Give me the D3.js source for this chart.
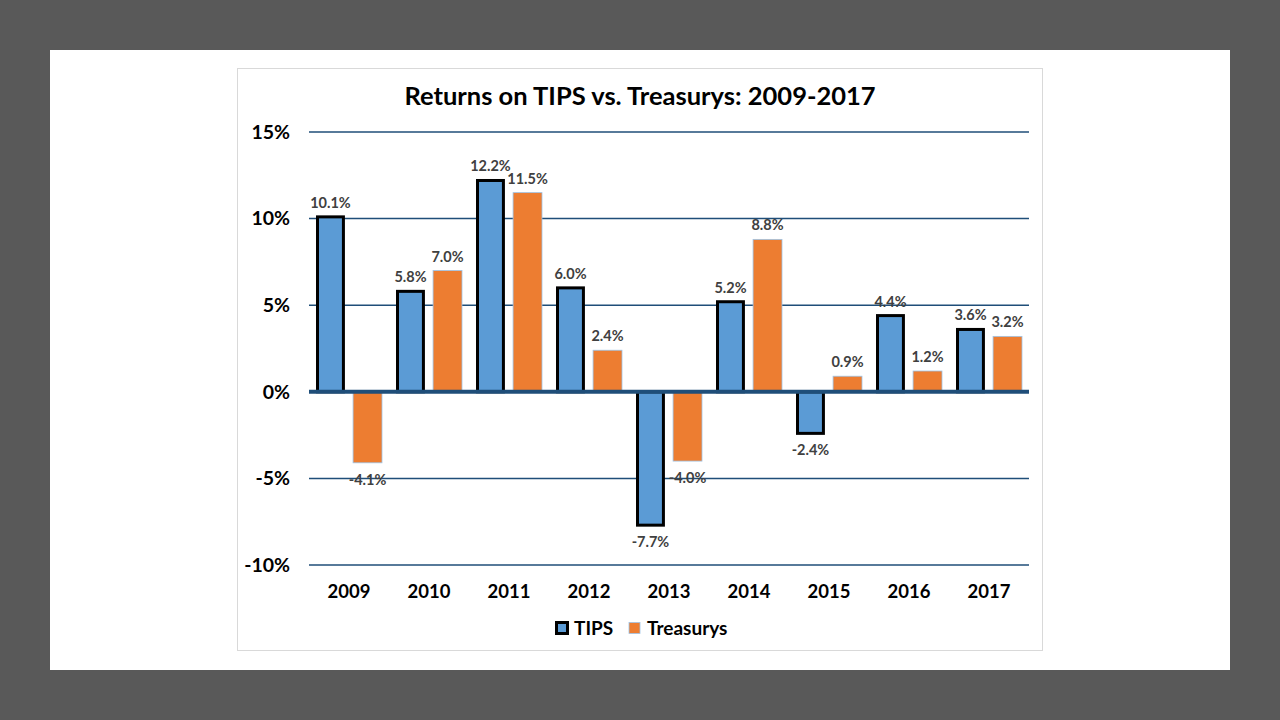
<!DOCTYPE html>
<html>
<head>
<meta charset="utf-8">
<script src="https://cdn.jsdelivr.net/npm/d3@7"></script>
<style>
  html, body { margin: 0; padding: 0; background: #595959; }
  svg { display: block; font-family: Lato, "Open Sans", sans-serif; }
</style>
</head>
<body>
<svg id="chart" width="1280" height="720"></svg>
<script>
// ==========================================
// DATA
// ==========================================
const years = ['2009', '2010', '2011', '2012', '2013', '2014', '2015', '2016', '2017'];
const tipsReturns = [10.1, 5.8, 12.2, 6.0, -7.7, 5.2, -2.4, 4.4, 3.6];
const treasuryReturns = [-4.1, 7.0, 11.5, 2.4, -4.0, 8.8, 0.9, 1.2, 3.2];
const seriesNames = ['TIPS', 'Treasurys'];
const yTicks = [-10, -5, 0, 5, 10, 15];

const svg = d3.select('#chart');

// slide + chart frame
svg.append('rect').attr('x', 50).attr('y', 50).attr('width', 1180).attr('height', 620).attr('fill', '#fff');
svg.append('rect').attr('x', 237.5).attr('y', 68.5).attr('width', 805).attr('height', 582)
  .attr('fill', '#fff').attr('stroke', '#d9d9d9').attr('stroke-width', 1);

svg.append('text')
  .attr('x', 640).attr('y', 105)
  .attr('text-anchor', 'middle')
  .attr('font-size', 25.5).attr('font-weight', 700).attr('fill', '#000')
  .text('Returns on TIPS vs. Treasurys: 2009-2017');

// ==========================================
// SCALES
// ==========================================
const y = d3.scaleLinear().domain([-10, 15]).range([565, 132]);
const x0 = d3.scaleBand().domain(years).range([309, 1029]).padding(0);
const x1 = d3.scaleBand().domain(seriesNames).range([7, 73]).paddingInner(0.22);

// gridlines
svg.append('g').selectAll('line')
  .data(yTicks.filter(t => t !== 0))
  .join('line')
  .attr('x1', 309).attr('x2', 1029)
  .attr('y1', d => y(d)).attr('y2', d => y(d))
  .attr('stroke', '#1f4e79').attr('stroke-width', 1.5);

// y axis labels
const yAxis = d3.axisLeft(y).tickValues(yTicks).tickSize(0).tickPadding(0)
  .tickFormat(d => d + '%');
svg.append('g')
  .attr('transform', 'translate(290,0)')
  .call(yAxis)
  .call(g => g.select('.domain').remove())
  .selectAll('text')
  .attr('font-family', 'Lato, "Open Sans", sans-serif')
  .attr('font-size', 19.5).attr('font-weight', 700).attr('fill', '#000');

// x axis labels
const xAxis = d3.axisBottom(x0).tickSize(0).tickPadding(0);
svg.append('g')
  .attr('transform', 'translate(0,585)')
  .call(xAxis)
  .call(g => g.select('.domain').remove())
  .selectAll('text')
  .attr('font-family', 'Lato, "Open Sans", sans-serif')
  .attr('font-size', 18.5).attr('font-weight', 700).attr('fill', '#000');

// ==========================================
// BARS
// ==========================================
const rows = years.map((yr, i) => ({ year: yr, values: [
  { key: 'TIPS', v: tipsReturns[i] },
  { key: 'Treasurys', v: treasuryReturns[i] }
]}));

const groups = svg.append('g').selectAll('g')
  .data(rows)
  .join('g')
  .attr('transform', d => `translate(${x0(d.year)},0)`);

groups.selectAll('rect')
  .data(d => d.values)
  .join('rect')
  .attr('x', d => x1(d.key) + (d.key === 'TIPS' ? 1.5 : 0))
  .attr('width', d => x1.bandwidth() - (d.key === 'TIPS' ? 3 : 0))
  .attr('y', d => y(Math.max(0, d.v)))
  .attr('height', d => Math.abs(y(d.v) - y(0)))
  .attr('fill', d => d.key === 'TIPS' ? '#5b9bd5' : '#ed7d31')
  .attr('stroke', d => d.key === 'TIPS' ? '#000' : '#9dc3e6')
  .attr('stroke-width', d => d.key === 'TIPS' ? 3 : 0.8);

// zero line on top of bars
svg.append('line')
  .attr('x1', 309).attr('x2', 1029)
  .attr('y1', y(0)).attr('y2', y(0))
  .attr('stroke', '#1f4e79').attr('stroke-width', 4);

// data labels
groups.selectAll('text.lbl')
  .data(d => d.values)
  .join('text')
  .attr('class', 'lbl')
  .attr('x', d => x1(d.key) + x1.bandwidth() / 2)
  .attr('y', d => d.v >= 0 ? y(d.v) - 9 : y(d.v) + 22)
  .attr('text-anchor', 'middle')
  .attr('font-size', 14.5).attr('font-weight', 700).attr('fill', '#404040')
  .text(d => d.v.toFixed(1) + '%');

// ==========================================
// LEGEND
// ==========================================
const legend = svg.append('g').attr('transform', 'translate(0,628)');
legend.append('rect').attr('x', 556.5).attr('y', -5.5).attr('width', 11).attr('height', 11)
  .attr('fill', '#5b9bd5').attr('stroke', '#000').attr('stroke-width', 3);
legend.append('text').attr('x', 574).attr('y', 7)
  .attr('font-size', 19).attr('font-weight', 700).attr('fill', '#000').text(seriesNames[0]);
legend.append('rect').attr('x', 629).attr('y', -5.5).attr('width', 11).attr('height', 11)
  .attr('fill', '#ed7d31').attr('stroke', '#9dc3e6').attr('stroke-width', 0.8);
legend.append('text').attr('x', 647).attr('y', 7)
  .attr('font-size', 19).attr('font-weight', 700).attr('fill', '#000').text(seriesNames[1]);
</script>
</body>
</html>
